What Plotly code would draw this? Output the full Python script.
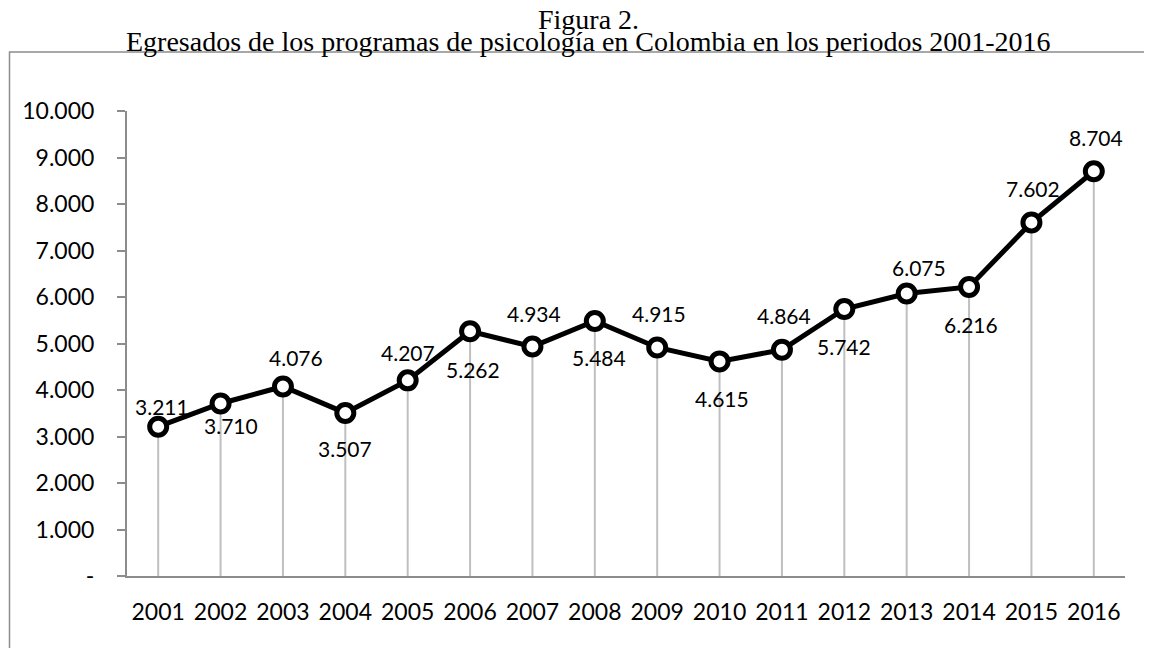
import plotly.graph_objects as go

years = ["2001", "2002", "2003", "2004", "2005", "2006", "2007", "2008",
         "2009", "2010", "2011", "2012", "2013", "2014", "2015", "2016"]
graduates = [3211, 3710, 4076, 3507, 4207, 5262, 4934, 5484,
             4915, 4615, 4864, 5742, 6075, 6216, 7602, 8704]
label_texts = ["3.211", "3.710", "4.076", "3.507", "4.207", "5.262", "4.934", "5.484",
               "4.915", "4.615", "4.864", "5.742", "6.075", "6.216", "7.602", "8.704"]
# label offsets in pixels (style only)
label_dy = [20, -22, 29, -36, 28, -38, 33, -37, 34, -37, 34, -37, 26, -38, 34, 34]
label_dx = [4, 10, 13, 0, 0, 3, 2, 4, 2, 2, 2, 0, 12, 2, 2, 2]

y_tickvals = [0, 1000, 2000, 3000, 4000, 5000, 6000, 7000, 8000, 9000, 10000]
y_ticktext = ["-", "1.000", "2.000", "3.000", "4.000", "5.000", "6.000", "7.000",
              "8.000", "9.000", "10.000"]

title_line1 = "Figura 2."
title_line2 = "Egresados de los programas de psicología en Colombia en los periodos 2001-2016"

AX = "#8c8c8c"
LBL_FONT = "Lato"
TITLE_FONT = "Liberation Serif"

ML, MR, MT, MB = 119, 35, 103, 80
W, H = 1152, 648
PW, PH = W - ML - MR, H - MT - MB


def px_to_paper_x(px):
    return (px - ML) / PW


def px_to_paper_y(py):
    return (H - MB - py) / PH


fig = go.Figure()

# drop lines from axis to each point
drop_x, drop_y = [], []
for yr, v in zip(years, graduates):
    drop_x += [yr, yr, None]
    drop_y += [0, v, None]
fig.add_trace(go.Scatter(x=drop_x, y=drop_y, mode="lines",
                         line=dict(color="#bfbfbf", width=2),
                         hoverinfo="skip", showlegend=False))

fig.add_trace(go.Scatter(
    x=years, y=graduates, mode="lines+markers",
    line=dict(color="black", width=5),
    marker=dict(size=17, color="white", line=dict(color="black", width=5)),
    showlegend=False))

for i, (v, t, dy, dx) in enumerate(zip(graduates, label_texts, label_dy, label_dx)):
    fig.add_annotation(x=i, y=v, text=t, showarrow=False,
                       xanchor="center", yanchor="middle",
                       xshift=dx, yshift=dy,
                       font=dict(family=LBL_FONT, size=21, color="black"))

fig.add_annotation(xref="paper", yref="paper", x=px_to_paper_x(580), y=px_to_paper_y(11),
                   xanchor="center", yanchor="middle",
                   text=title_line1, showarrow=False,
                   font=dict(family=TITLE_FONT, size=28, color="black"))
fig.add_annotation(xref="paper", yref="paper", x=px_to_paper_x(580), y=px_to_paper_y(34),
                   xanchor="center", yanchor="middle",
                   text=title_line2, showarrow=False,
                   font=dict(family=TITLE_FONT, size=28, color="black"))

fig.add_shape(type="rect", xref="paper", yref="paper",
              x0=px_to_paper_x(1.5), x1=px_to_paper_x(1200),
              y0=px_to_paper_y(700), y1=px_to_paper_y(44),
              line=dict(color=AX, width=1.5), layer="below")

fig.update_layout(
    width=W, height=H,
    margin=dict(l=ML, r=MR, t=MT, b=MB),
    paper_bgcolor="white", plot_bgcolor="white",
    showlegend=False,
)
fig.update_xaxes(type="category", range=[-0.5, 15.5],
                 showgrid=False, zeroline=False,
                 showline=True, linecolor=AX, linewidth=2,
                 ticks="", ticklabelstandoff=14,
                 tickfont=dict(family=LBL_FONT, size=23, color="black"))
fig.update_yaxes(range=[0, 10000], tickvals=y_tickvals, ticktext=y_ticktext,
                 showgrid=False, zeroline=False,
                 showline=True, linecolor=AX, linewidth=2,
                 ticks="outside", ticklen=8, tickcolor=AX, tickwidth=2,
                 ticklabelstandoff=18,
                 tickfont=dict(family=LBL_FONT, size=23, color="black"))

fig.write_html("out.html")
